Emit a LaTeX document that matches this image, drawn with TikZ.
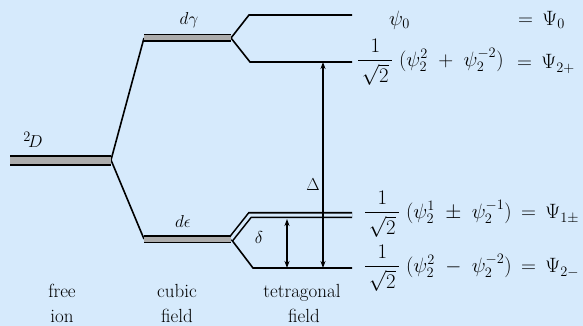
\documentclass[tikz,border=0pt]{standalone}
\usepackage{amsmath,amssymb}
\usepackage{xcolor}
\usepackage{tikz}
\usetikzlibrary{positioning,arrows.meta}
\definecolor{bgblue}{RGB}{214,234,252}

\begin{document}
\begin{tikzpicture}[x=1pt, y=-1pt, font=\fontsize{19}{22}\selectfont,
  ionlvl/.style={draw=black, line width=2pt, double=gray!65, double distance=7pt},
  band/.style={draw=black, line width=1.8pt, double=gray!65, double distance=5pt},
  pair/.style={draw=black, line width=1.6pt, double=bgblue, double distance=3pt},
  lvl/.style={draw=black, line width=1.6pt},
  arr/.style={{Stealth[length=7pt,width=5pt]}-{Stealth[length=7pt,width=5pt]}, line width=1.2pt},
  lbl/.style={anchor=base, inner sep=0pt},
  eq/.style={anchor=west, inner sep=0pt, font=\fontsize{21}{24}\selectfont}]
\fill[bgblue] (0,0) rectangle (583,326);
\useasboundingbox (0,0) rectangle (583,326);
% level end points
\coordinate (ion0) at (10,160); \coordinate (ion1) at (111,160);
\coordinate (dg0) at (144,38); \coordinate (dg1) at (231,38);
\coordinate (de0) at (144,239); \coordinate (de1) at (231,239);
\coordinate (e0a) at (249,15); \coordinate (e0b) at (352,15);
\coordinate (e2a) at (250,62); \coordinate (e2b) at (352,62);
\coordinate (t1a) at (250,215); \coordinate (t1b) at (352,215);
\coordinate (t2a) at (253,268); \coordinate (t2b) at (352,268);
% splitting
\draw[lvl] (ion1) -- (dg0);
\draw[lvl] (ion1) -- (de0);
\draw[lvl] (dg1) -- (e0a) -- (e0b);
\draw[lvl] (dg1) -- (e2a) -- (e2b);
\draw[lvl] (de1) -- (t2a) -- (t2b);
\draw[pair] (de1) -- (t1a) -- (t1b);
\draw[ionlvl] (ion0) -- (ion1);
\draw[band] (dg0) -- (dg1);
\draw[band] (de0) -- (de1);
% gaps
\coordinate (Dtop) at (323,62); \coordinate (Dbot) at (323,268);
\coordinate (dtop) at (287,219); \coordinate (dbot) at (287,268);
\draw[arr] (Dtop) -- (Dbot);
\draw[arr] (dtop) -- (dbot);
\node (Dl) at (313,185) {$\Delta$};
\node (dl) at (259,237) {$\delta$};
% level labels
\node (D) at (33,140) {$^{2}\!D$};
\node (dg) at (189,20) {$d\gamma$};
\node (de) at (183,221) {$d\epsilon$};
\node[eq] (psi0) at (389,20) {$\psi_0$};
\node[eq] (Psi0) at (518,20) {$=\,\Psi_0$};
\node[eq] (f2p) at (357,62) {$\dfrac{1}{\,\sqrt{2}\,}\;(\psi_2^{2}\;+\;\psi_2^{-2})$};
\node[eq] (P2p) at (517,64) {$=\,\Psi_{2+}$};
\node[eq] (f1) at (364,214) {$\dfrac{1}{\,\sqrt{2}\,}\;(\psi_2^{1}\;\pm\;\psi_2^{-1})$};
\node[eq] (P1) at (521,214) {$=\,\Psi_{1\pm}$};
\node[eq] (f2m) at (364,268) {$\dfrac{1}{\,\sqrt{2}\,}\;(\psi_2^{2}\;-\;\psi_2^{-2})$};
\node[eq] (P2m) at (521,268) {$=\,\Psi_{2-}$};
% columns
\node[lbl] (free) at (62,297) {free};
\node[lbl] (ion) at (62,322) {ion};
\node[lbl] (cub) at (177,297) {cubic};
\node[lbl] (cubf) at (177,322) {field};
\node[lbl] (tet) at (302,297) {tetragonal};
\node[lbl] (tetf) at (304,322) {field};
\end{tikzpicture}
\end{document}
